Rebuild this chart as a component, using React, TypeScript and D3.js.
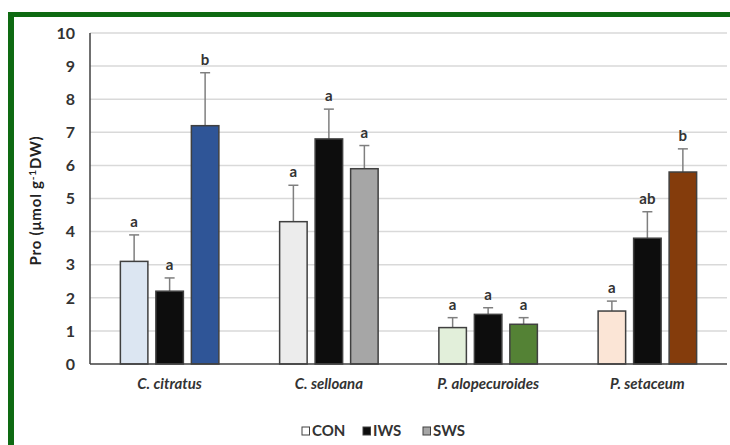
import React from "react";
import * as d3 from "d3";

// Proline content per species and treatment
const species = ["C. citratus", "C. selloana", "P. alopecuroides", "P. setaceum"];
const treatments = ["CON", "IWS", "SWS"];
const meanCON = [3.1, 4.3, 1.1, 1.6];
const meanIWS = [2.2, 6.8, 1.5, 3.8];
const meanSWS = [7.2, 5.9, 1.2, 5.8];
const sdCON = [0.8, 1.1, 0.3, 0.3];
const sdIWS = [0.4, 0.9, 0.2, 0.8];
const sdSWS = [1.6, 0.7, 0.2, 0.7];
const lettersCON = ["a", "a", "a", "a"];
const lettersIWS = ["a", "a", "a", "ab"];
const lettersSWS = ["b", "a", "a", "b"];
const yTicks = [0, 1, 2, 3, 4, 5, 6, 7, 8, 9, 10];

// Fill per species (rows) and treatment (columns)
const fills = [
  ["#dce6f2", "#0d0d0d", "#2f5597"],
  ["#ececec", "#0d0d0d", "#a6a6a6"],
  ["#e2efda", "#0d0d0d", "#548235"],
  ["#fbe5d6", "#0d0d0d", "#843c0c"],
];
const legendFills = ["#ffffff", "#0d0d0d", "#a6a6a6"];

const W = 730;
const H = 445;
const margin = { left: 90, right: 3, top: 33, bottom: 81 };
const groupWidth = 98.5;
const font = "Lato, 'Open Sans', sans-serif";

export default function App() {
  const x0 = d3
    .scaleBand<string>()
    .domain(species)
    .range([margin.left, W - margin.right])
    .paddingInner(0)
    .paddingOuter(0);
  const x1 = d3
    .scaleBand<string>()
    .domain(treatments)
    .range([0, groupWidth])
    .paddingInner(0.225)
    .paddingOuter(0);
  const y = d3.scaleLinear().domain([0, 10]).range([H - margin.bottom, margin.top]);

  const means = [meanCON, meanIWS, meanSWS];
  const sds = [sdCON, sdIWS, sdSWS];
  const letters = [lettersCON, lettersIWS, lettersSWS];

  const legendX = [302, 363, 423];

  return (
    <svg
      width={W}
      height={H}
      style={{ position: "absolute", left: 0, top: 0, background: "#fff" }}
      fontFamily={font}
    >
      {/* frame */}
      <rect x={0} y={0} width={W} height={H} fill="#fff" />
      <line x1={8} x2={W} y1={14.5} y2={14.5} stroke="#0e6a12" strokeWidth={5} />
      <line x1={11} x2={11} y1={12} y2={H} stroke="#0e6a12" strokeWidth={6} />

      {/* grid */}
      {yTicks.slice(1).map((t) => (
        <line
          key={t}
          x1={margin.left}
          x2={W - margin.right}
          y1={y(t)}
          y2={y(t)}
          stroke="#d9d9d9"
          strokeWidth={1.5}
        />
      ))}

      {/* y ticks */}
      {yTicks.map((t) => (
        <text
          key={t}
          x={75}
          y={y(t)}
          dy="0.36em"
          textAnchor="end"
          fontSize={16}
          fontWeight="bold"
          fill="#333"
        >
          {t}
        </text>
      ))}

      {/* y title */}
      <text
        transform={`translate(41,${(margin.top + H - margin.bottom) / 2 + 2}) rotate(-90)`}
        textAnchor="middle"
        fontSize={15}
        fontWeight="bold"
        letterSpacing={0.8}
        fill="#222"
      >
        Pro (μmol g<tspan dy={-5} fontSize={10}>-1</tspan>
        <tspan dy={5}>DW)</tspan>
      </text>

      {/* bars */}
      {species.map((s, i) => {
        const gx = (x0(s) as number) + (x0.bandwidth() - groupWidth) / 2;
        return (
          <g key={s}>
            {treatments.map((t, j) => {
              const bx = gx + (x1(t) as number);
              const bw = x1.bandwidth();
              const m = means[j][i];
              const top = m + sds[j][i];
              const cx = bx + bw / 2;
              return (
                <g key={t}>
                  <line x1={cx} x2={cx} y1={y(m)} y2={y(top)} stroke="#7f7f7f" strokeWidth={1.5} />
                  <line x1={cx - 5} x2={cx + 5} y1={y(top)} y2={y(top)} stroke="#7f7f7f" strokeWidth={1.5} />
                  <rect
                    x={bx}
                    y={y(m)}
                    width={bw}
                    height={y(0) - y(m)}
                    fill={fills[i][j]}
                    stroke="#404040"
                    strokeWidth={1.5}
                  />
                  <text
                    x={cx}
                    y={y(top) - 8}
                    textAnchor="middle"
                    fontSize={15}
                    fontWeight="bold"
                    fill="#333"
                  >
                    {letters[j][i]}
                  </text>
                </g>
              );
            })}
          </g>
        );
      })}

      {/* axes */}
      <line x1={margin.left} x2={margin.left} y1={margin.top} y2={y(0)} stroke="#404040" strokeWidth={1.5} />
      <line x1={margin.left} x2={W - margin.right} y1={y(0)} y2={y(0)} stroke="#404040" strokeWidth={1.5} />

      {/* category labels */}
      {species.map((s) => (
        <text
          key={s}
          x={(x0(s) as number) + x0.bandwidth() / 2}
          y={389}
          textAnchor="middle"
          fontSize={15}
          fontWeight="bold"
          fontStyle="italic"
          fill="#333"
        >
          {s}
        </text>
      ))}

      {/* legend */}
      {treatments.map((t, j) => (
        <g key={t}>
          <rect
            x={legendX[j]}
            y={427}
            width={7.5}
            height={8}
            fill={legendFills[j]}
            stroke="#404040"
            strokeWidth={1}
          />
          <text x={legendX[j] + 10} y={436} fontSize={15} fontWeight="bold" fill="#333">
            {t}
          </text>
        </g>
      ))}
    </svg>
  );
}
